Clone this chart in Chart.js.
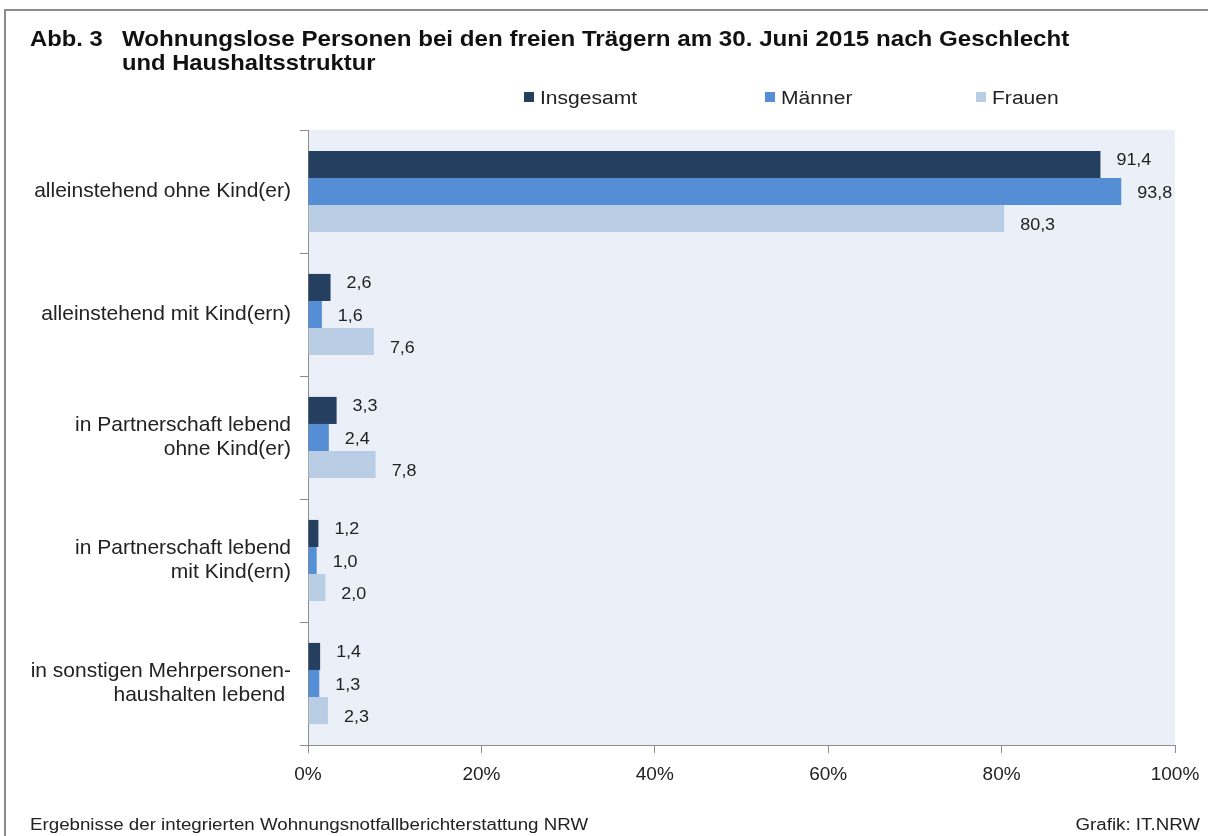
<!DOCTYPE html>
<html>
<head>
<meta charset="utf-8">
<script src="https://cdn.jsdelivr.net/npm/chart.js@4/dist/chart.umd.min.js"></script>
<style>
  html, body { margin: 0; padding: 0; background: #fff; }
  #box { position: relative; width: 1208px; height: 836px; }
</style>
</head>
<body>
<div id="box"><canvas id="grafik" width="1208" height="836"></canvas></div>
<script>
// Daten (Anteile in %)
var kategorien = [
  'alleinstehend ohne Kind(er)',
  'alleinstehend mit Kind(ern)',
  ['in Partnerschaft lebend', 'ohne Kind(er)'],
  ['in Partnerschaft lebend', 'mit Kind(ern)'],
  ['in sonstigen Mehrpersonen-', 'haushalten lebend ']
];
var insgesamt = [91.4, 2.6, 3.3, 1.2, 1.4];
var maenner   = [93.8, 1.6, 2.4, 1.0, 1.3];
var frauen    = [80.3, 7.6, 7.8, 2.0, 2.3];
var xTicks    = [0, 20, 40, 60, 80, 100];

var titelNr  = 'Abb. 3';
var titel1   = 'Wohnungslose Personen bei den freien Trägern am 30. Juni 2015 nach Geschlecht';
var titel2   = 'und Haushaltsstruktur';
var quelle   = 'Ergebnisse der integrierten Wohnungsnotfallberichterstattung NRW';
var grafik   = 'Grafik: IT.NRW';

var farben = ['#243F60', '#558ED5', '#B9CDE5'];
var schrift = '"Liberation Sans", Arial, sans-serif';

function komma(v) { return v.toFixed(1).replace('.', ','); }

// Text leicht in die Breite gezogen (wie im Original)
function breitText(ctx, txt, x, y, sx, align) {
  ctx.save();
  var w = ctx.measureText(txt).width * sx;
  var x0 = align === 'right' ? x - w : x;
  ctx.translate(x0, y + 2);
  ctx.scale(sx, 1);
  ctx.textAlign = 'left';
  ctx.fillText(txt, 0, 0);
  ctx.restore();
}

// Rahmen, Hintergrund, Titel, Legende, Quelle
var rahmenPlugin = {
  id: 'rahmen',
  beforeDraw: function (c) {
    var ctx = c.ctx, a = c.chartArea;
    ctx.save();
    ctx.fillStyle = '#fff';
    ctx.fillRect(0, 0, c.width, c.height);
    ctx.strokeStyle = '#8c8c8c';
    ctx.lineWidth = 2;
    ctx.beginPath();
    ctx.moveTo(5, 836); ctx.lineTo(5, 10); ctx.lineTo(1208, 10);
    ctx.stroke();
    ctx.fillStyle = '#EBF0F8';
    ctx.fillRect(a.left, a.top, a.right - a.left, a.bottom - a.top);
    ctx.restore();
  },
  afterDraw: function (c) {
    var ctx = c.ctx;
    ctx.save();
    ctx.fillStyle = '#111';
    ctx.textBaseline = 'middle';
    ctx.font = 'bold 22px ' + schrift;
    breitText(ctx, titelNr, 30, 38, 1.08);
    breitText(ctx, titel1, 122, 38, 1.098);
    breitText(ctx, titel2, 122, 62, 1.08);

    // Legende
    var lx = [524, 765, 976];
    ctx.font = '18px ' + schrift;
    c.data.datasets.forEach(function (ds, i) {
      ctx.fillStyle = ds.backgroundColor;
      ctx.fillRect(lx[i], 92, 10, 10);
      ctx.fillStyle = '#222';
      breitText(ctx, ds.label, lx[i] + 16, 97, 1.17);
    });

    ctx.font = '16px ' + schrift;
    ctx.fillStyle = '#222';
    breitText(ctx, quelle, 30, 824, 1.17);
    breitText(ctx, grafik, 1200, 824, 1.17, 'right');
    ctx.restore();
  }
};

// Werte neben den Balken
var werteDy = [-6, 0, 5];
var wertePlugin = {
  id: 'werte',
  afterDatasetsDraw: function (c) {
    var ctx = c.ctx;
    ctx.save();
    ctx.font = '16px ' + schrift;
    ctx.fillStyle = '#222';
    ctx.textBaseline = 'middle';
    c.data.datasets.forEach(function (ds, i) {
      c.getDatasetMeta(i).data.forEach(function (bar, j) {
        breitText(ctx, komma(ds.data[j]), bar.x + 16, bar.y + werteDy[i], 1.12);
      });
    });
    ctx.restore();
  }
};

var ctx = document.getElementById('grafik').getContext('2d');
var chart = new Chart(ctx, {
  type: 'bar',
  data: {
    labels: kategorien,
    datasets: [
      { label: 'Insgesamt', data: insgesamt, backgroundColor: farben[0] },
      { label: 'Männer',    data: maenner,   backgroundColor: farben[1] },
      { label: 'Frauen',    data: frauen,    backgroundColor: farben[2] }
    ]
  },
  options: {
    indexAxis: 'y',
    responsive: false,
    animation: false,
    devicePixelRatio: 1,
    layout: { padding: { top: 130, right: 33, bottom: 0, left: 0 } },
    datasets: { bar: { categoryPercentage: 0.66, barPercentage: 1.0 } },
    plugins: { legend: { display: false }, title: { display: false }, tooltip: { enabled: false } },
    scales: {
      x: {
        min: 0, max: 100,
        afterBuildTicks: function (s) { s.ticks = xTicks.map(function (v) { return { value: v }; }); },
        afterFit: function (s) { s.height = 91; s.paddingRight = 0; s.paddingLeft = 0; },
        border: { display: true, color: '#8c8c8c', width: 1 },
        grid: { drawOnChartArea: false, drawTicks: true, tickLength: 8, color: '#8c8c8c' },
        ticks: {
          padding: 10,
          color: '#222',
          font: { family: schrift, size: 19 },
          callback: function (v) { return v + '%'; }
        }
      },
      y: {
        afterFit: function (s) { s.width = 308; },
        border: { display: true, color: '#8c8c8c', width: 1 },
        grid: { offset: true, drawOnChartArea: false, drawTicks: true, tickLength: 8, color: '#8c8c8c' },
        ticks: {
          padding: 9,
          color: '#222',
          font: { family: schrift, size: 21, lineHeight: 1.15 }
        }
      }
    }
  },
  plugins: [rahmenPlugin, wertePlugin]
});
</script>
</body>
</html>
